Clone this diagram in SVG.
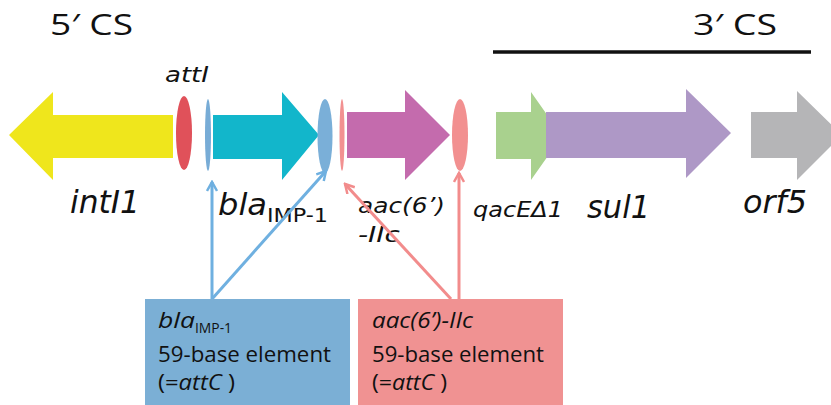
<svg xmlns="http://www.w3.org/2000/svg" width="831" height="405" viewBox="0 0 831 405">
<defs>
<style>
.gene{font-family:"DejaVu Sans",Verdana,sans-serif;font-style:italic;fill:#111}
.up{font-family:"DejaVu Sans",Verdana,sans-serif;font-style:normal;fill:#111}
.cs{font-family:"Open Sans","Noto Sans",sans-serif;font-size:30px;fill:#111}
.box{font-family:"Open Sans","Noto Sans",sans-serif;font-size:21px;fill:#111}
.it{font-style:italic}
.bl{stroke:#6fb0e0;stroke-width:3;fill:none}
.pk{stroke:#f28c8c;stroke-width:3;fill:none}
</style>
<marker id="mb" viewBox="0 0 12 12" refX="10" refY="6" markerWidth="12" markerHeight="12" markerUnits="userSpaceOnUse" orient="auto">
<path d="M1,1 L10,6 L1,11" fill="none" stroke="#6fb0e0" stroke-width="2.5"/>
</marker>
<marker id="mp" viewBox="0 0 12 12" refX="10" refY="6" markerWidth="12" markerHeight="12" markerUnits="userSpaceOnUse" orient="auto">
<path d="M1,1 L10,6 L1,11" fill="none" stroke="#f28c8c" stroke-width="2.5"/>
</marker>
</defs>
<rect width="831" height="405" fill="#fff"/>

<g id="cs5"><text class="cs" x="50" y="35" textLength="83" lengthAdjust="spacingAndGlyphs">5′ CS</text></g>
<g id="cs3">
<text class="cs" x="693" y="35" textLength="84" lengthAdjust="spacingAndGlyphs">3′ CS</text>
<line x1="493" y1="52" x2="811" y2="52" stroke="#111" stroke-width="3.5"/>
</g>

<g id="intI1">
<polygon points="9,135 53,92 53,115 173,115 173,158 53,158 53,180" fill="#efe61c"/>
<text class="gene" x="70" y="213" font-size="32" textLength="70" lengthAdjust="spacingAndGlyphs">intI1</text>
</g>
<g id="attI">
<ellipse cx="184" cy="133" rx="8" ry="37" fill="#e0515a"/>
<text class="gene" x="165" y="82" font-size="22" textLength="44" lengthAdjust="spacingAndGlyphs">attI</text>
</g>
<g id="bla">
<ellipse cx="208" cy="135" rx="3" ry="36" fill="#78acd6"/>
<polygon points="213,115 282,115 282,92 319,135 282,180 282,159 213,159" fill="#12b6cb"/>
<ellipse cx="325" cy="136" rx="7.5" ry="37" fill="#7aafd8"/>
<text class="gene" x="218" y="215" font-size="30" textLength="49" lengthAdjust="spacingAndGlyphs">bla</text>
<text class="up" x="267" y="222" font-size="19" textLength="61" lengthAdjust="spacingAndGlyphs">IMP-1</text>
</g>
<g id="aac">
<ellipse cx="342" cy="135" rx="2.5" ry="36" fill="#f29191"/>
<polygon points="347,112 405,112 405,90 450,135 405,180 405,158 347,158" fill="#c46bad"/>
<ellipse cx="460" cy="135" rx="8" ry="36" fill="#f29090"/>
<text class="gene" x="358" y="213" font-size="22" textLength="87" lengthAdjust="spacingAndGlyphs">aac(6’)</text>
<text class="gene" x="358" y="242" font-size="22" textLength="42" lengthAdjust="spacingAndGlyphs">-IIc</text>
</g>
<g id="qacE">
<polygon points="496,112 531,112 531,92 562,136 531,180 531,159 496,159" fill="#a9d18e"/>
<text class="gene" x="473" y="217" font-size="22" textLength="90" lengthAdjust="spacingAndGlyphs">qacEΔ1</text>
</g>
<g id="sul1">
<polygon points="546,112 686,112 686,89 731,133 686,178 686,158 546,158" fill="#ae98c6"/>
<text class="gene" x="587" y="218" font-size="32" textLength="63" lengthAdjust="spacingAndGlyphs">sul1</text>
</g>
<g id="orf5">
<polygon points="751,112 797,112 797,91 842,135 797,180 797,158 751,158" fill="#b5b5b7"/>
<text class="gene" x="743" y="213" font-size="32" textLength="64" lengthAdjust="spacingAndGlyphs">orf5</text>
</g>

<g id="connectors">
<line class="bl" x1="212" y1="299" x2="212" y2="182" marker-end="url(#mb)"/>
<line class="bl" x1="212" y1="299" x2="326" y2="171" marker-end="url(#mb)"/>
<line class="pk" x1="451" y1="299" x2="345" y2="184" marker-end="url(#mp)"/>
<line class="pk" x1="459" y1="299" x2="459" y2="173" marker-end="url(#mp)"/>
</g>

<g id="box-bla">
<rect x="145" y="299" width="205" height="106" fill="#7bafd5"/>
<text class="box" x="158" y="328"><tspan class="it" textLength="37" lengthAdjust="spacingAndGlyphs">bla</tspan><tspan font-size="14" dy="5" textLength="37" lengthAdjust="spacingAndGlyphs">IMP-1</tspan></text>
<text class="box" x="158" y="362" textLength="173" lengthAdjust="spacingAndGlyphs">59-base element</text>
<text class="box" x="158" y="390" textLength="77" lengthAdjust="spacingAndGlyphs">(=<tspan class="it">attC</tspan> )</text>
</g>
<g id="box-aac">
<rect x="358" y="299" width="205" height="106" fill="#f09292"/>
<text class="box it" x="372" y="328" textLength="101" lengthAdjust="spacingAndGlyphs">aac(6’)-IIc</text>
<text class="box" x="372" y="362" textLength="172" lengthAdjust="spacingAndGlyphs">59-base element</text>
<text class="box" x="372" y="390" textLength="75" lengthAdjust="spacingAndGlyphs">(=<tspan class="it">attC</tspan> )</text>
</g>
</svg>
